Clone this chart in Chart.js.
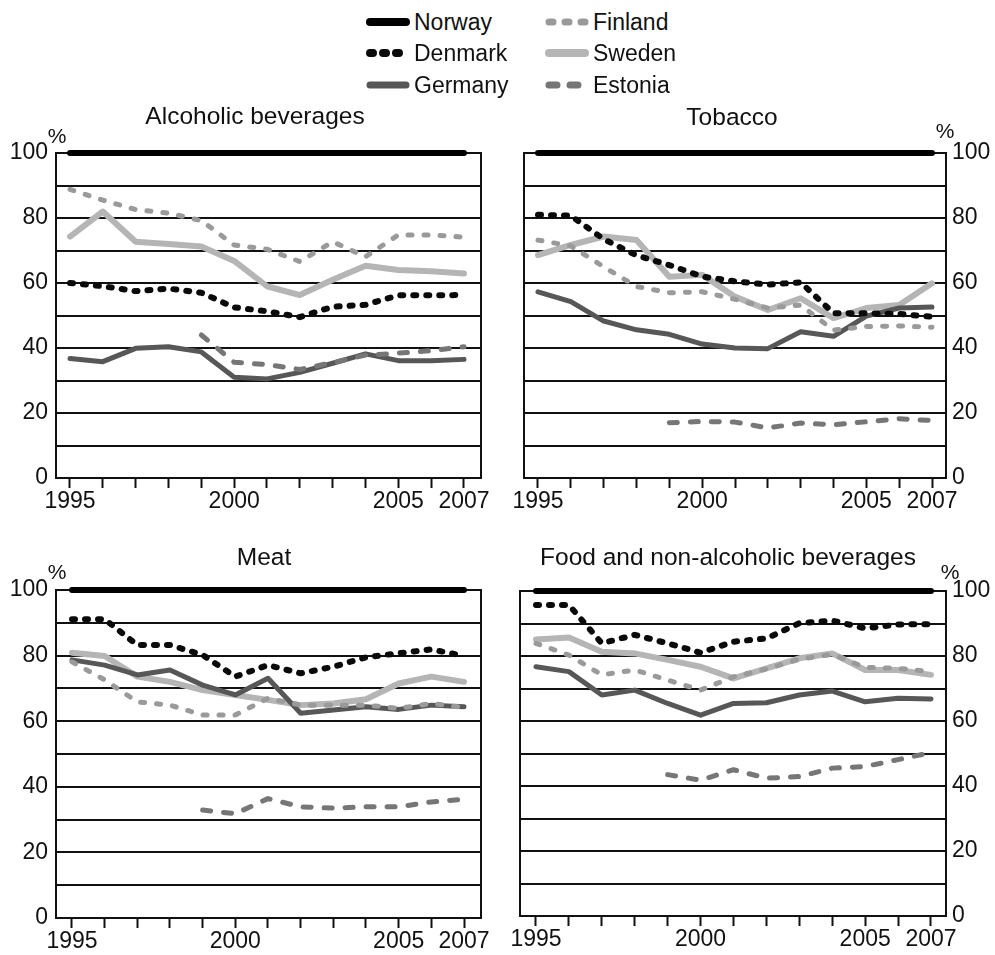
<!DOCTYPE html>
<html>
<head>
<meta charset="utf-8">
<script src="https://cdn.jsdelivr.net/npm/chart.js@4.4.1/dist/chart.umd.min.js"></script>
<style>
  html, body { margin: 0; padding: 0; background: #fff; }
  #page { position: relative; width: 995px; height: 955px; overflow: hidden;
          font-family: "Liberation Sans", Arial, sans-serif; color: #111; }
  .panel { position: absolute; }
  .legend-item { position: absolute; display: flex; align-items: center; height: 28px;
                 font-size: 23px; line-height: 28px; white-space: nowrap; }
  .legend-item canvas { display: block; margin-right: 4px; }
</style>
</head>
<body>
<div id="page">
  <div id="legend"></div>
  <div class="panel" style="left:0px;top:100px"><canvas id="c0"></canvas></div>
  <div class="panel" style="left:497px;top:100px"><canvas id="c1"></canvas></div>
  <div class="panel" style="left:0px;top:540px"><canvas id="c2"></canvas></div>
  <div class="panel" style="left:497px;top:540px"><canvas id="c3"></canvas></div>
</div>
<script>
// ---- data: shares by year, Norway = 100 ----
const YEARS = [1995, 1996, 1997, 1998, 1999, 2000, 2001, 2002, 2003, 2004, 2005, 2006, 2007];
const YEAR_LABELS = [1995, 2000, 2005, 2007];
const Y_GRID = [0, 10, 20, 30, 40, 50, 60, 70, 80, 90, 100];
const Y_LABELS = [0, 20, 40, 60, 80, 100];

const alcoholNorway  = [100, 100, 100, 100, 100, 100, 100, 100, 100, 100, 100, 100, 100];
const alcoholDenmark = [60, 59, 57.5, 58.3, 57, 52.5, 51.3, 49.5, 52.7, 53.3, 56.2, 56.2, 56.3];
const alcoholGermany = [36.8, 35.8, 39.9, 40.4, 38.8, 31, 30.5, 32.5, 35.3, 38.2, 36.1, 36.1, 36.5];
const alcoholFinland = [88.8, 85.5, 82.6, 81.5, 79.2, 71.7, 70.4, 66.6, 72.7, 68.1, 74.8, 74.8, 74.1];
const alcoholSweden  = [74.3, 82, 72.7, 72, 71.2, 66.8, 59, 56.3, 61, 65.3, 64, 63.6, 62.9];
const alcoholEstonia = [null, null, null, null, 44, 35.6, 34.9, 33.4, 35.5, 37.8, 38.4, 39.2, 40.4];

const tobaccoNorway  = [100, 100, 100, 100, 100, 100, 100, 100, 100, 100, 100, 100, 100];
const tobaccoDenmark = [81, 80.7, 73.5, 68.5, 65.5, 62, 60.5, 59.5, 60.2, 50.7, 50.7, 50.5, 49.6];
const tobaccoGermany = [57.3, 54.3, 48.3, 45.6, 44.2, 41.2, 40, 39.8, 45, 43.6, 49.8, 52.3, 52.6];
const tobaccoFinland = [73.2, 71.4, 65, 58.9, 57, 57.3, 55, 52.3, 53.2, 45.5, 46.6, 46.8, 46.4];
const tobaccoSweden  = [68.6, 71.7, 74.3, 73.2, 61.9, 62.5, 55.8, 51.7, 55.3, 49.2, 52.3, 53.2, 59.9];
const tobaccoEstonia = [null, null, null, null, 17, 17.4, 17.2, 15.4, 16.9, 16.4, 17.3, 18.2, 17.7];

const meatNorway  = [100, 100, 100, 100, 100, 100, 100, 100, 100, 100, 100, 100, 100];
const meatDenmark = [91.1, 91.1, 83.2, 83.2, 80.2, 73.6, 77.1, 74.6, 76.6, 79.5, 80.7, 81.9, 79.9];
const meatGermany = [78.7, 77.1, 74.1, 75.6, 71, 68, 73.1, 62.4, 63.4, 64.4, 63.6, 64.9, 64.4];
const meatFinland = [78.1, 72.6, 65.9, 64.9, 61.9, 61.9, 67, 64.9, 64.9, 64.9, 63.9, 65.4, 64.2];
const meatSweden  = [80.9, 79.9, 73.6, 72, 69.5, 68, 66.5, 64.9, 65.4, 66.7, 71.5, 73.6, 72];
const meatEstonia = [null, null, null, null, 32.9, 31.8, 36.4, 33.9, 33.5, 33.9, 33.9, 35.4, 36.2];

const foodNorway  = [100, 100, 100, 100, 100, 100, 100, 100, 100, 100, 100, 100, 100];
const foodDenmark = [95.7, 95.7, 83.9, 86.5, 83.9, 81, 84.4, 85.4, 90.1, 90.9, 88.5, 89.7, 89.8];
const foodGermany = [76.7, 75.2, 68, 69.5, 65.4, 61.8, 65.4, 65.6, 68, 69.2, 65.9, 67, 66.8];
const foodFinland = [83.9, 80.3, 74.2, 75.7, 72.6, 69.5, 73.6, 76, 79, 80.5, 76.5, 76.2, 75.2];
const foodSweden  = [85.1, 85.7, 81.3, 80.8, 78.8, 76.7, 73.1, 76.2, 79.3, 80.8, 75.7, 75.7, 74.2];
const foodEstonia = [null, null, null, null, 43.5, 41.8, 45, 42.4, 42.9, 45.5, 46, 48.1, 50.3];

// ---- line styles per country (order: lower value is drawn on top) ----
const STYLE = {
  Norway:  { color: '#000000', width: 6, dash: [],      order: 0 },
  Denmark: { color: '#0a0a0a', width: 6, dash: [3, 10], order: 1 },
  Finland: { color: '#9a9a9a', width: 5, dash: [4, 12], order: 2 },
  Estonia: { color: '#767676', width: 5, dash: [8, 13], order: 3 },
  Germany: { color: '#575757', width: 5, dash: [],      order: 4 },
  Sweden:  { color: '#b5b5b5', width: 6, dash: [],      order: 5 }
};

const FONT = '"Liberation Sans", Arial, sans-serif';
const INK = '#111111';

// ---- legend (two columns of three) ----
const LEGEND = [
  { name: 'Norway',  left: 366, top: 8 },
  { name: 'Denmark', left: 366, top: 39 },
  { name: 'Germany', left: 366, top: 71 },
  { name: 'Finland', left: 545, top: 8 },
  { name: 'Sweden',  left: 545, top: 39 },
  { name: 'Estonia', left: 545, top: 71 }
];
const legendBox = document.getElementById('legend');
LEGEND.forEach(item => {
  const st = STYLE[item.name];
  const div = document.createElement('div');
  div.className = 'legend-item';
  div.style.left = item.left + 'px';
  div.style.top = item.top + 'px';
  const cv = document.createElement('canvas');
  cv.width = 44; cv.height = 14;
  const g = cv.getContext('2d');
  g.strokeStyle = st.color;
  g.lineWidth = st.width + 2;
  g.lineCap = 'round';
  g.setLineDash(st.dash.length ? [st.dash[0], st.dash[1]] : []);
  g.beginPath();
  g.moveTo(4, 7); g.lineTo(40, 7);
  g.stroke();
  const span = document.createElement('span');
  span.textContent = item.name;
  div.appendChild(cv);
  div.appendChild(span);
  legendBox.appendChild(div);
});

// ---- panel title and "%" marker ----
const panelText = {
  id: 'panelText',
  afterDraw(chart, args, opts) {
    const ctx = chart.ctx;
    ctx.save();
    ctx.fillStyle = INK;
    ctx.textAlign = 'center';
    ctx.textBaseline = 'middle';
    ctx.font = '24.5px ' + FONT;
    ctx.fillText(opts.title, opts.titleX, opts.titleY);
    ctx.font = '21px ' + FONT;
    ctx.fillText('%', opts.pctX, opts.pctY);
    ctx.restore();
  }
};

// ---- panels: canvas size, plot frame inside the canvas, year pixel anchors ----
const PANELS = [
  { id: 'c0', title: 'Alcoholic beverages', w: 497, h: 420, l: 56, t: 53, r: 481, b: 378, x1995: 70, x2007: 464,
    side: 'left', titleX: 255, titleY: 17, pctX: 57, pctY: 37,
    series: { Norway: alcoholNorway, Denmark: alcoholDenmark, Germany: alcoholGermany,
              Finland: alcoholFinland, Sweden: alcoholSweden, Estonia: alcoholEstonia } },
  { id: 'c1', title: 'Tobacco', w: 498, h: 420, l: 27, t: 53, r: 449, b: 378, x1995: 41, x2007: 435,
    side: 'right', titleX: 235, titleY: 18, pctX: 448, pctY: 32,
    series: { Norway: tobaccoNorway, Denmark: tobaccoDenmark, Germany: tobaccoGermany,
              Finland: tobaccoFinland, Sweden: tobaccoSweden, Estonia: tobaccoEstonia } },
  { id: 'c2', title: 'Meat', w: 497, h: 415, l: 56, t: 50, r: 481, b: 378, x1995: 72, x2007: 464,
    side: 'left', titleX: 264, titleY: 18, pctX: 57, pctY: 33,
    series: { Norway: meatNorway, Denmark: meatDenmark, Germany: meatGermany,
              Finland: meatFinland, Sweden: meatSweden, Estonia: meatEstonia } },
  { id: 'c3', title: 'Food and non-alcoholic beverages', w: 498, h: 415, l: 23, t: 51, r: 449, b: 376, x1995: 39, x2007: 434,
    side: 'right', titleX: 231, titleY: 18, pctX: 453, pctY: 33,
    series: { Norway: foodNorway, Denmark: foodDenmark, Germany: foodGermany,
              Finland: foodFinland, Sweden: foodSweden, Estonia: foodEstonia } }
];

PANELS.forEach(p => {
  const canvas = document.getElementById(p.id);
  canvas.width = p.w; canvas.height = p.h;
  canvas.style.width = p.w + 'px'; canvas.style.height = p.h + 'px';

  const pxPerYear = (p.x2007 - p.x1995) / 12;
  const xMin = 1995 - (p.x1995 - p.l) / pxPerYear;
  const xMax = 2007 + (p.r - p.x2007) / pxPerYear;
  const leftW = p.l, rightW = p.w - p.r, xAxisH = p.h - p.b;
  const other = p.side === 'left' ? 'right' : 'left';

  const datasets = Object.keys(p.series).map(name => {
    const st = STYLE[name];
    return {
      label: name,
      data: YEARS.map((yr, i) => ({ x: yr, y: p.series[name][i] })),
      xAxisID: 'x', yAxisID: 'y',
      borderColor: st.color, backgroundColor: st.color,
      borderWidth: st.width, borderDash: st.dash,
      borderCapStyle: 'round', borderJoinStyle: 'round',
      pointRadius: 0, pointHoverRadius: 0, tension: 0, fill: false,
      spanGaps: false, order: st.order, clip: 10
    };
  });

  new Chart(canvas, {
    type: 'line',
    data: { datasets },
    plugins: [panelText],
    options: {
      responsive: false, animation: false, devicePixelRatio: 1,
      layout: { padding: { top: p.t, left: 0, right: 0, bottom: 0 } },
      plugins: {
        legend: { display: false }, tooltip: { enabled: false }, title: { display: false },
        panelText: { title: p.title, titleX: p.titleX, titleY: p.titleY, pctX: p.pctX, pctY: p.pctY }
      },
      scales: {
        x: {
          type: 'linear', min: xMin, max: xMax, bounds: 'data',
          afterBuildTicks: s => { s.ticks = YEARS.map(v => ({ value: v })); },
          afterFit: s => { s.height = xAxisH; },
          grid: { display: true, drawOnChartArea: false, drawTicks: true, tickLength: 10,
                  tickWidth: 2, tickColor: INK },
          border: { display: true, color: INK, width: 2 },
          ticks: { autoSkip: false, maxRotation: 0, minRotation: 0, padding: 0, color: INK,
                   font: { family: FONT, size: 23 },
                   callback: v => YEAR_LABELS.includes(v) ? String(v) : '' }
        },
        y: {
          type: 'linear', position: p.side, min: 0, max: 100,
          afterBuildTicks: s => { s.ticks = Y_GRID.map(v => ({ value: v })); },
          afterFit: s => { s.width = p.side === 'left' ? leftW : rightW; },
          grid: { color: INK, lineWidth: 2, drawTicks: false },
          border: { display: true, color: INK, width: 2 },
          ticks: { padding: p.side === 'left' ? 8 : 6, color: INK, font: { family: FONT, size: 23 },
                   callback: v => Y_LABELS.includes(v) ? String(v) : '' }
        },
        frame: {
          type: 'linear', axis: 'y', position: other, display: true,
          afterFit: s => { s.width = p.side === 'left' ? rightW : leftW; },
          grid: { drawOnChartArea: false, drawTicks: false },
          ticks: { display: false },
          border: { display: true, color: INK, width: 2 }
        }
      }
    }
  });
});
</script>
</body>
</html>
